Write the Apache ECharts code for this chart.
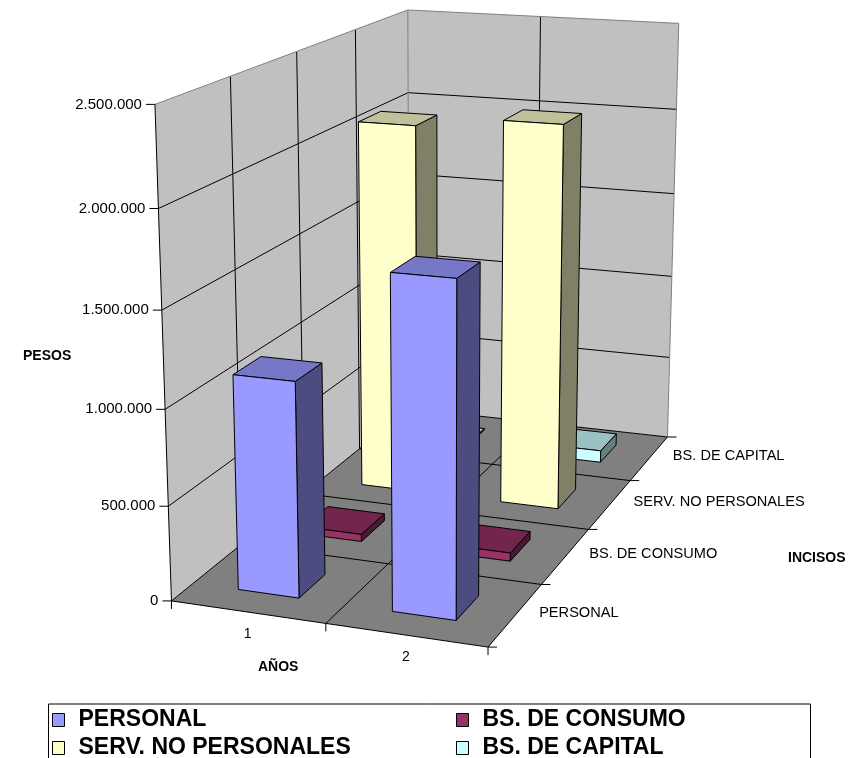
<!DOCTYPE html>
<html><head><meta charset="utf-8">
<script src="https://cdn.jsdelivr.net/npm/echarts@6.0.0/dist/echarts.min.js"></script>
<style>html,body{margin:0;padding:0;background:#fff}#c{width:851px;height:758px}</style>
</head><body><div id="c"></div>
<script>
// ---------------- data ----------------
const years = ['1', '2'];
const incisos = ['PERSONAL', 'BS. DE CONSUMO', 'SERV. NO PERSONALES', 'BS. DE CAPITAL'];
const personal = [1130000, 1720000];
const bsConsumo = [40000, 45000];
const servNoPersonales = [2090000, 2150000];
const bsCapital = [10000, 70000];
const valueTicks = [0, 500000, 1000000, 1500000, 2000000, 2500000];
const valueTickLabels = ['0', '500.000', '1.000.000', '1.500.000', '2.000.000', '2.500.000'];

// ---------------- camera calibration (plot box corners: [x, value in millions, depth, px, py]) ----------------
const frameAnchors = [
  [0,0,0, 172,601],[1,0,0, 325.5,624],[2,0,0, 488,647],
  [2,0,1, 541.7,584.3],[2,0,2, 588.3,529.3],[2,0,3, 630.7,480.7],[2,0,4, 667,437],
  [0,0.5,0, 168.3,506],[0,1,0, 164.5,408.3],[0,2,0, 158.3,208.3],[0,2.5,0, 155,104.3],
  [0,2.5,4, 407.3,10],[1,2.5,4, 541,16.7],[2,2.5,4, 678.3,23.3],
  [0,2,4, 408.3,92.3],[2,2,4, 676.7,109.3],[0,2,1, 233.3,174.3],[0,1.5,1, 235,270.7]
];
const UNIT = 1e6;

function fitCamera(anchors) {
  const A = [], b = [];
  anchors.forEach(([X, Y, Z, u, v]) => {
    u /= 100; v /= 100;
    A.push([X, Y, Z, 1, 0, 0, 0, 0, -u * X, -u * Y, -u * Z]); b.push(u);
    A.push([0, 0, 0, 0, X, Y, Z, 1, -v * X, -v * Y, -v * Z]); b.push(v);
  });
  const n = 11;
  const M = [];
  for (let i = 0; i < n; i++) { M.push(new Array(n + 1).fill(0)); }
  for (let r = 0; r < A.length; r++) {
    for (let i = 0; i < n; i++) {
      for (let j = 0; j < n; j++) M[i][j] += A[r][i] * A[r][j];
      M[i][n] += A[r][i] * b[r];
    }
  }
  for (let c = 0; c < n; c++) {
    let piv = c;
    for (let r = c + 1; r < n; r++) if (Math.abs(M[r][c]) > Math.abs(M[piv][c])) piv = r;
    const t = M[c]; M[c] = M[piv]; M[piv] = t;
    for (let r = 0; r < n; r++) {
      if (r === c) continue;
      const f = M[r][c] / M[c][c];
      for (let j = c; j <= n; j++) M[r][j] -= f * M[c][j];
    }
  }
  return M.map((row, i) => row[n] / row[i]);
}
const cam = fitCamera(frameAnchors);
function proj(X, Y, Z) {
  const w = cam[8] * X + cam[9] * Y + cam[10] * Z + 1;
  return [100 * (cam[0] * X + cam[1] * Y + cam[2] * Z + cam[3]) / w,
          100 * (cam[4] * X + cam[5] * Y + cam[6] * Z + cam[7]) / w];
}

const NX = years.length, NZ = incisos.length;
const H = valueTicks[valueTicks.length - 1] / UNIT;
const FONT = '"Liberation Sans", Arial, sans-serif';

function renderFrame(params, api) {
  const P = (X, Y, Z) => api.coord(proj(X, Y, Z));
  const ch = [];
  const poly = (pts, fill) => ch.push({ type: 'polygon', shape: { points: pts }, style: { fill: fill, stroke: null } });
  const line = (a, b, stroke) => ch.push({ type: 'line', shape: { x1: a[0], y1: a[1], x2: b[0], y2: b[1] }, style: { stroke: stroke, lineWidth: 1 } });
  const text = (x, y, s, align, vAlign, font) => ch.push({ type: 'text', x: x, y: y,
    style: { text: s, fill: '#000', font: font, align: align, verticalAlign: vAlign, textAlign: align, textVerticalAlign: vAlign } });

  poly([P(0, 0, 0), P(0, 0, NZ), P(0, H, NZ), P(0, H, 0)], '#C0C0C0');
  poly([P(0, 0, NZ), P(NX, 0, NZ), P(NX, H, NZ), P(0, H, NZ)], '#C0C0C0');
  poly([P(0, 0, 0), P(NX, 0, 0), P(NX, 0, NZ), P(0, 0, NZ)], '#808080');

  valueTicks.forEach(t => {
    const y = t / UNIT;
    if (y < H) { line(P(0, y, 0), P(0, y, NZ), '#000'); line(P(0, y, NZ), P(NX, y, NZ), '#000'); }
  });
  for (let k = 1; k < NZ; k++) line(P(0, 0, k), P(0, H, k), '#000');
  for (let i = 1; i < NX; i++) line(P(i, 0, NZ), P(i, H, NZ), '#000');
  for (let k = 1; k < NZ; k++) line(P(0, 0, k), P(NX, 0, k), '#000');
  for (let i = 1; i < NX; i++) line(P(i, 0, 0), P(i, 0, NZ), '#000');

  line(P(0, H, 0), P(0, H, NZ), '#808080');
  line(P(0, H, NZ), P(NX, H, NZ), '#808080');
  line(P(NX, H, NZ), P(NX, 0, NZ), '#808080');
  line(P(0, 0, NZ), P(0, H, NZ), '#808080');

  line(P(0, 0, 0), P(0, H, 0), '#000');
  line(P(0, 0, 0), P(NX, 0, 0), '#000');
  line(P(NX, 0, 0), P(NX, 0, NZ), '#000');

  valueTicks.forEach((t, i) => {
    const p = P(0, t / UNIT, 0);
    line(p, [p[0] - 9, p[1]], '#000');
    text(p[0] - 13, p[1], valueTickLabels[i], 'right', 'middle', '15px ' + FONT);
  });
  for (let i = 0; i <= NX; i++) { const p = P(i, 0, 0); line(p, [p[0], p[1] + 8], '#000'); }
  years.forEach((y, i) => { const p = P(i + 0.5, 0, 0); text(p[0], p[1] + 22.5, y, 'center', 'middle', '14px ' + FONT); });
  for (let k = 0; k <= NZ; k++) { const p = P(NX, 0, k); line(p, [p[0] + 9, p[1]], '#000'); }
  incisos.forEach((s, k) => { const p = P(NX, 0, k + 0.5); text(p[0] + 23.5, p[1] - 2, s, 'left', 'middle', '14.6px ' + FONT); });

  return { type: 'group', children: ch };
}

function barRenderer(depth, shade) {
  return function (params, api) {
    const xi = api.value(0), h = api.value(1) / UNIT;
    const P = (X, Y, Z) => api.coord(proj(X, Y, Z));
    const x0 = xi + 0.3, x1 = xi + 0.7, z0 = depth + 0.3, z1 = depth + 0.7;
    const st = fill => ({ fill: fill, stroke: '#000', lineWidth: 1, lineJoin: 'round' });
    return { type: 'group', children: [
      { type: 'polygon', shape: { points: [P(x1, 0, z0), P(x1, 0, z1), P(x1, h, z1), P(x1, h, z0)] }, style: st(shade.side) },
      { type: 'polygon', shape: { points: [P(x0, h, z0), P(x1, h, z0), P(x1, h, z1), P(x0, h, z1)] }, style: st(shade.top) },
      { type: 'polygon', shape: { points: [P(x0, 0, z0), P(x1, 0, z0), P(x1, h, z0), P(x0, h, z0)] }, style: st(shade.front) }
    ] };
  };
}

const seriesDefs = [
  { name: 'PERSONAL', values: personal, shade: { front: '#9999FF', top: '#7777C7', side: '#4C4C80' } },
  { name: 'BS. DE CONSUMO', values: bsConsumo, shade: { front: '#993366', top: '#73264D', side: '#4C1933' } },
  { name: 'SERV. NO PERSONALES', values: servNoPersonales, shade: { front: '#FFFFCC', top: '#C0C09A', side: '#808066' } },
  { name: 'BS. DE CAPITAL', values: bsCapital, shade: { front: '#CCFFFF', top: '#99C2C2', side: '#668080' } }
];

const series = [{
  type: 'custom', name: 'frame', silent: true, z: 1,
  data: [[0, 0]], renderItem: renderFrame
}];
for (let k = seriesDefs.length - 1; k >= 0; k--) {
  const d = seriesDefs[k];
  series.push({
    type: 'custom', name: d.name, z: 2 + (seriesDefs.length - k),
    itemStyle: { color: d.shade.front, borderColor: '#000', borderWidth: 1 },
    data: d.values.map((v, i) => [i, v]),
    renderItem: barRenderer(k, d.shade)
  });
}

const legendCommon = {
  orient: 'vertical', icon: 'rect', itemWidth: 12, itemHeight: 13, itemGap: 4, padding: 0,
  selectedMode: false, top: 708, height: 70,
  itemStyle: { borderColor: '#000', borderWidth: 1 },
  textStyle: { fontFamily: FONT, fontWeight: 'bold', fontSize: 23, color: '#000', lineHeight: 24, padding: [0, 0, 0, 9] }
};

const chart = echarts.init(document.getElementById('c'), null, { renderer: 'canvas' });
chart.setOption({
  animation: false,
  backgroundColor: '#fff',
  grid: { left: 0, top: 0, right: 0, bottom: 0 },
  xAxis: { type: 'value', min: 0, max: 851, show: false },
  yAxis: { type: 'value', min: 0, max: 758, inverse: true, show: false },
  legend: [
    Object.assign({}, legendCommon, { left: 52, data: [seriesDefs[0].name, seriesDefs[2].name] }),
    Object.assign({}, legendCommon, { left: 456, data: [seriesDefs[1].name, seriesDefs[3].name] })
  ],
  graphic: [
    { type: 'rect', left: 46, top: 701.5, shape: { width: 762, height: 80 }, style: { fill: null, stroke: '#000', lineWidth: 1 }, z: 0 },
    { type: 'text', left: 23, top: 349, style: { text: 'PESOS', font: 'bold 14px ' + FONT, fill: '#000' } },
    { type: 'text', left: 258, top: 660, style: { text: 'AÑOS', font: 'bold 14px ' + FONT, fill: '#000' } },
    { type: 'text', left: 788, top: 551, style: { text: 'INCISOS', font: 'bold 14px ' + FONT, fill: '#000' } }
  ],
  series: series
});
</script>
</body></html>
